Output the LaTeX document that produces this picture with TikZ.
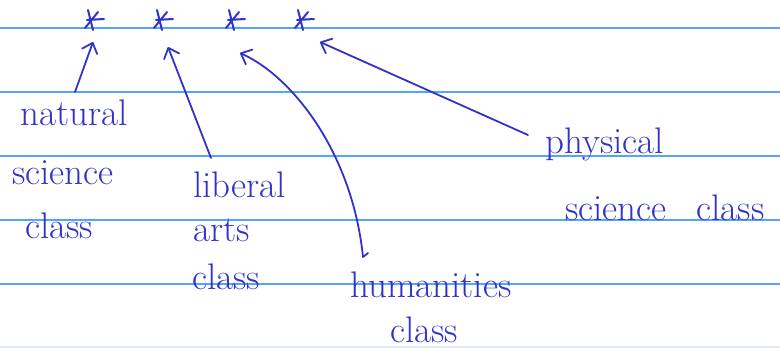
\documentclass[tikz,border=0pt]{standalone}
\usepackage{fontspec}
\usetikzlibrary{arrows.meta,calc}
\definecolor{ink}{RGB}{50,50,200}
\definecolor{ruling}{RGB}{80,165,255}

\begin{document}
\begin{tikzpicture}[
    x=1pt, y=-1pt,
    every node/.style={font=\fontsize{37}{42}\selectfont, text=ink, inner sep=0pt},
    % one handwritten line, set on its baseline
    word/.style={anchor=base west},
    pointer/.style={draw=ink, line width=1.8pt, line cap=round, line join=round,
                    -{Straight Barb[round, length=9pt, width=16pt]}},
    starmark/.pic={\draw[ink, line width=2pt, line cap=round]
                   (-4,-10) -- (1,10) (-7,8) -- (6,-8) (-5,0) -- (12,-1);}
]
\useasboundingbox (0,0) rectangle (780,348);

% --- ruled paper ---
\foreach \y in {28,92,...,284}
  \draw[ruling, line width=1.3pt] (0,\y) -- (780,\y);
\draw[ruling!20, line width=1.3pt] (0,347) -- (780,347);

% --- the four stars ---
\foreach \i/\x in {1/92,2/161,3/233,4/302} {
  \coordinate (s\i) at (\x,20);
  \pic at (s\i) {starmark};
}

% --- labels ---
\node[word] (natural) at (20,125) {natural};
\node[word] (natsci) at (12,184) {science};
\node[word] (natclass) at (25,238) {class};

\node[word] (liberal) at (193,197) {liberal};
\node[word] (arts) at (193,241) {arts};
\node[word] (libclass) at (192,289) {class};

\node[word] (humanities) at (350,297) {humanities};
\node[word] (humclass) at (390,342) {class};

\node[word] (physical) at (545,153) {physical};
\node[word] (physci) at (565,220) {science\hspace{30pt}class};

% --- arrows up to the stars ---
\draw[pointer] ($(natural.base west)+(55,-33)$) -- ($(s1)+(1,22)$);
\draw[pointer] ($(liberal.base west)+(18,-39)$) -- ($(s2)+(7,27)$);
\draw[pointer] ($(humanities.base west)+(18,-44)$) -- ($(humanities.base west)+(13,-40)$)
    .. controls (352,150) and (290,75) .. ($(s3)+(7,33)$);
\draw[pointer] ($(physical.base west)+(-17,-18)$) -- ($(s4)+(18,22)$);

\end{tikzpicture}
\end{document}
